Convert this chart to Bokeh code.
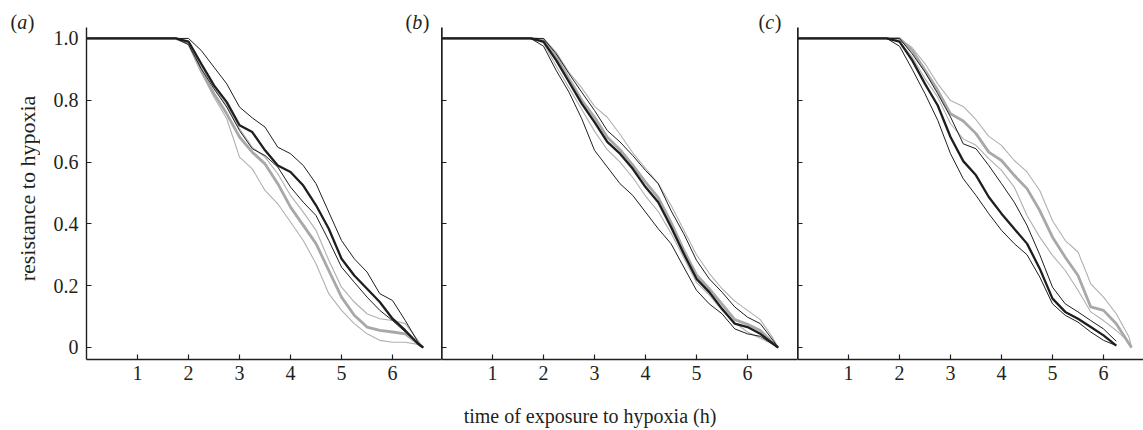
import math
from bokeh.plotting import figure
from bokeh.layouts import row, column
from bokeh.models import Range1d, FixedTicker, Label
from bokeh.embed import file_html
from bokeh.resources import INLINE

# ---------------- data ----------------
T = [0, 1.75, 2.0, 2.25, 2.5, 2.75, 3.0, 3.25, 3.5, 3.75, 4.0, 4.25, 4.5,
     4.75, 5.0, 5.25, 5.5, 5.75, 6.0, 6.25, 6.5, 6.6]
T_C_BLACK = [0, 1.75, 2.0, 2.25, 2.5, 2.75, 3.0, 3.25, 3.5, 3.75, 4.0, 4.25,
             4.5, 4.75, 5.0, 5.25, 5.5, 5.75, 6.0, 6.25]
T_C_GREY = [0, 1.75, 2.0, 2.25, 2.5, 2.75, 3.0, 3.25, 3.5, 3.75, 4.0, 4.25,
            4.5, 4.75, 5.0, 5.25, 5.5, 5.75, 6.0, 6.25, 6.5, 6.55]

# panel (a)
a_black_mid = [1, 1, 0.99, 0.918, 0.848, 0.794, 0.719, 0.697, 0.638, 0.589, 0.568, 0.524,
               0.46, 0.384, 0.287, 0.233, 0.19, 0.147, 0.093, 0.055, 0.012, 0]
a_black_hi = [1, 1, 1.0, 0.961, 0.907, 0.853, 0.778, 0.743, 0.713, 0.648, 0.627, 0.589,
              0.53, 0.438, 0.346, 0.287, 0.244, 0.174, 0.152, 0.087, 0.017, 0]
a_black_lo = [1, 1, 0.98, 0.902, 0.837, 0.778, 0.702, 0.643, 0.621, 0.584, 0.519, 0.47,
              0.427, 0.346, 0.26, 0.211, 0.163, 0.12, 0.087, 0.05, 0.012, 0]
a_grey_mid = [1, 1, 0.985, 0.896, 0.821, 0.756, 0.681, 0.632, 0.594, 0.53, 0.454, 0.395,
              0.336, 0.249, 0.163, 0.104, 0.066, 0.055, 0.05, 0.044, 0.012, 0]
a_grey_hi = [1, 1, 0.99, 0.91, 0.843, 0.783, 0.708, 0.648, 0.616, 0.562, 0.492, 0.438,
             0.379, 0.282, 0.195, 0.147, 0.109, 0.093, 0.087, 0.077, 0.023, 0]
a_grey_lo = [1, 1, 0.98, 0.89, 0.81, 0.74, 0.616, 0.578, 0.508, 0.465, 0.406, 0.346,
             0.271, 0.174, 0.12, 0.077, 0.044, 0.023, 0.017, 0.017, 0.01, 0]

# panel (b)
b_black_mid = [1, 1, 0.99, 0.929, 0.859, 0.789, 0.729, 0.665, 0.627, 0.578, 0.519, 0.47,
               0.39, 0.303, 0.222, 0.179, 0.125, 0.077, 0.066, 0.044, 0.012, 0]
b_black_hi = [1, 1, 1.0, 0.95, 0.886, 0.826, 0.767, 0.702, 0.665, 0.621, 0.573, 0.53,
              0.443, 0.368, 0.282, 0.222, 0.179, 0.131, 0.098, 0.077, 0.023, 0]
b_black_lo = [1, 1, 0.975, 0.896, 0.826, 0.74, 0.638, 0.584, 0.53, 0.492, 0.438, 0.384,
              0.336, 0.26, 0.185, 0.141, 0.109, 0.06, 0.044, 0.036, 0.01, 0]
b_grey_mid = [1, 1, 0.995, 0.94, 0.87, 0.80, 0.745, 0.68, 0.64, 0.59, 0.535, 0.485,
              0.405, 0.315, 0.235, 0.19, 0.14, 0.09, 0.075, 0.055, 0.015, 0]
b_grey_hi = [1, 1, 1.0, 0.955, 0.89, 0.84, 0.78, 0.745, 0.69, 0.63, 0.58, 0.53,
             0.46, 0.38, 0.30, 0.24, 0.19, 0.15, 0.12, 0.09, 0.03, 0]
b_grey_lo = [1, 1, 0.985, 0.91, 0.84, 0.77, 0.70, 0.64, 0.60, 0.55, 0.49, 0.44,
             0.37, 0.29, 0.21, 0.17, 0.12, 0.08, 0.05, 0.03, 0.01, 0]

# panel (c)
c_black_mid = [1, 1, 0.99, 0.929, 0.853, 0.783, 0.681, 0.603, 0.557, 0.487, 0.433, 0.384,
               0.336, 0.255, 0.158, 0.115, 0.093, 0.066, 0.039, 0.006]
c_black_hi = [1, 1, 1.0, 0.95, 0.891, 0.821, 0.746, 0.659, 0.643, 0.589, 0.53, 0.47,
              0.395, 0.30, 0.195, 0.141, 0.115, 0.087, 0.06, 0.02]
c_black_lo = [1, 1, 0.975, 0.90, 0.821, 0.735, 0.627, 0.546, 0.492, 0.433, 0.379, 0.336,
              0.30, 0.228, 0.141, 0.104, 0.082, 0.05, 0.023, 0.006]
c_grey_mid = [1, 1, 1.0, 0.961, 0.897, 0.832, 0.756, 0.733, 0.692, 0.632, 0.605, 0.557,
              0.514, 0.443, 0.357, 0.292, 0.233, 0.131, 0.12, 0.077, 0.012, 0]
c_grey_hi = [1, 1, 1.0, 0.97, 0.918, 0.853, 0.799, 0.78, 0.737, 0.683, 0.654, 0.605,
             0.568, 0.508, 0.41, 0.346, 0.309, 0.206, 0.163, 0.109, 0.034, 0]
c_grey_lo = [1, 1, 0.99, 0.94, 0.87, 0.81, 0.724, 0.675, 0.654, 0.611, 0.573, 0.519,
             0.427, 0.357, 0.298, 0.249, 0.185, 0.115, 0.087, 0.055, 0.017, 0]

X_TICKS = [1, 2, 3, 4, 5, 6]
Y_TICKS = [0, 0.2, 0.4, 0.6, 0.8, 1.0]
Y_LABELS = {0: "0", 0.2: "0.2", 0.4: "0.4", 0.6: "0.6", 0.8: "0.8", 1.0: "1.0"}
Y_BLANK = {t: "" for t in Y_TICKS}
PANEL_TAGS = ["a", "b", "c"]
Y_TITLE = "resistance to hypoxia"
X_TITLE = "time of exposure to hypoxia (h)"

# ---------------- styling / layout ----------------
FONT = "Liberation Serif"
TXT = "#231f20"
BLACK = "#1e1e1e"
GREY = "#a8a8a8"
GREY_THIN = "#b0b0b0"
FS = "20px"
FRAME_H = 359          # frame: top of page down to the x axis line
BORDER_B = 34          # room for the x tick labels
ROW_H = FRAME_H + BORDER_B
Y_LO, Y_HI = -0.039, -0.039 + FRAME_H / 309.0
AXIS_TOP = 1.036


def make_panel(frame_w, xmax, border_left, labelled):
    p = figure(frame_width=frame_w, frame_height=FRAME_H,
               x_range=Range1d(0, xmax), y_range=Range1d(Y_LO, Y_HI),
               output_backend="svg", toolbar_location=None,
               min_border_left=border_left, min_border_right=0,
               min_border_top=0, min_border_bottom=BORDER_B)
    p.outline_line_color = None
    p.grid.visible = False
    p.background_fill_color = None
    p.border_fill_color = None
    for ax in (p.xaxis[0], p.yaxis[0]):
        ax.axis_line_color = TXT
        ax.axis_line_width = 1.4
        ax.major_tick_line_color = TXT
        ax.major_tick_line_width = 1.2
        ax.major_tick_in = 5
        ax.major_tick_out = 0
        ax.minor_tick_in = 0
        ax.minor_tick_out = 0
        ax.major_label_text_font = FONT
        ax.major_label_text_font_size = FS
        ax.major_label_text_color = TXT
    p.xaxis.ticker = FixedTicker(ticks=X_TICKS)
    p.xaxis.major_label_standoff = 6
    p.yaxis.ticker = FixedTicker(ticks=Y_TICKS)
    p.yaxis.bounds = (Y_LO, AXIS_TOP)
    if labelled:
        p.yaxis.major_label_overrides = Y_LABELS
        p.yaxis.major_label_standoff = 8
    else:
        p.yaxis.major_label_overrides = Y_BLANK
        p.yaxis.major_label_standoff = 0
        p.yaxis.axis_line_width = 2.4
    return p


def draw(p, tb, tg, bmid, bhi, blo, gmid, ghi, glo):
    p.line(tg, ghi, line_color=GREY_THIN, line_width=1.1)
    p.line(tg, glo, line_color=GREY_THIN, line_width=1.1)
    p.line(tg, gmid, line_color=GREY, line_width=2.8)
    p.line(tb, bhi, line_color=BLACK, line_width=1.0)
    p.line(tb, blo, line_color=BLACK, line_width=1.0)
    p.line(tb, bmid, line_color=BLACK, line_width=2.3)


def panel_tag(p, letter, x0, y_mid, letter_w):
    common = dict(y=y_mid, x_units="screen", y_units="screen", text_font=FONT,
                  text_font_size=FS, text_color=TXT, text_baseline="middle")
    p.add_layout(Label(x=x0, text="(", **common))
    p.add_layout(Label(x=x0 + 6.7, text=letter, text_font_style="italic", **common))
    p.add_layout(Label(x=x0 + 6.7 + letter_w, text=")", **common))


def blank_fig(w, h):
    f = figure(frame_width=w, frame_height=h, x_range=Range1d(0, w), y_range=Range1d(0, h),
               output_backend="svg", toolbar_location=None,
               x_axis_type=None, y_axis_type=None,
               min_border_left=0, min_border_right=0, min_border_top=0, min_border_bottom=0)
    f.outline_line_color = None
    f.grid.visible = False
    f.background_fill_color = None
    f.border_fill_color = None
    return f


# left strip: panel tag (a) and the rotated y-axis title
strip = blank_fig(40, ROW_H)
panel_tag(strip, PANEL_TAGS[0], 10, ROW_H - 21, 10.5)
strip.add_layout(Label(x=27, y=ROW_H - 188, x_units="screen", y_units="screen",
                       text=Y_TITLE, angle=math.pi / 2, text_font=FONT,
                       text_font_size="22px", text_color=TXT, text_align="center",
                       text_baseline="middle"))

pa = make_panel(355, 6.96, 46, True)
pb = make_panel(356, 6.98, 0, False)
pc = make_panel(346, 6.784, 0, False)

draw(pa, T, T, a_black_mid, a_black_hi, a_black_lo, a_grey_mid, a_grey_hi, a_grey_lo)
draw(pb, T, T, b_black_mid, b_black_hi, b_black_lo, b_grey_mid, b_grey_hi, b_grey_lo)
draw(pc, T_C_BLACK, T_C_GREY, c_black_mid, c_black_hi, c_black_lo,
     c_grey_mid, c_grey_hi, c_grey_lo)

panel_tag(pa, PANEL_TAGS[1], 319, FRAME_H - 21, 10.5)
panel_tag(pb, PANEL_TAGS[2], 317, FRAME_H - 21, 9.5)

# footer strip with the x-axis title
FOOT_H = 430 - ROW_H
footer = blank_fig(1143, FOOT_H)
footer.add_layout(Label(x=589.5, y=FOOT_H - 22, x_units="screen", y_units="screen",
                        text=X_TITLE, text_font=FONT, text_font_size=FS,
                        text_color=TXT, text_align="center", text_baseline="middle"))

layout = column(row(strip, pa, pb, pc, spacing=0), footer, spacing=0)
open("out.html", "w").write(file_html(layout, INLINE))
